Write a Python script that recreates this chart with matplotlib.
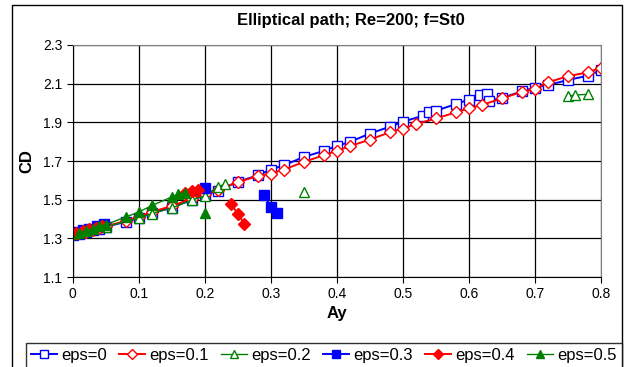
import numpy as np
import matplotlib
matplotlib.use("Agg")
import matplotlib.pyplot as plt
from matplotlib.patches import Rectangle

plt.rcParams['font.family'] = ['Liberation Sans', 'DejaVu Sans']

# ---- data (NaN = gap in the series) ----
ay_eps0 = [0, 0.01, 0.02, 0.03, 0.04, 0.05, 0.08, 0.10, 0.12, 0.15, 0.18, 0.20, 0.22,
           0.25, 0.28, 0.30, 0.32, 0.35, 0.38, 0.40, 0.42, 0.45, 0.48, 0.50, 0.53,
           0.54, 0.55, 0.58, 0.60, 0.617, 0.627, 0.63, 0.65, 0.68, 0.70, 0.72, 0.75,
           0.78, 0.80]
cd_eps0 = [1.318, 1.325, 1.333, 1.341, 1.350, 1.360, 1.385, 1.405, 1.431, 1.459, 1.500,
           1.523, 1.547, 1.592, 1.626, 1.656, 1.678, 1.721, 1.752, 1.778, 1.799, 1.842,
           1.877, 1.903, 1.934, 1.951, 1.960, 1.994, 2.018, 2.041, 2.046, 2.012, 2.026,
           2.060, 2.080, 2.093, 2.119, 2.141, 2.170]

ay_eps01 = [0, 0.01, 0.02, 0.03, 0.04, 0.05, 0.08, 0.10, 0.12, 0.15, 0.18, 0.20, 0.22,
            0.25, 0.28, 0.30, 0.32, 0.35, 0.38, 0.40, 0.42, 0.45, 0.48, 0.50, 0.52,
            0.55, 0.58, 0.60, 0.62, 0.65, 0.68, 0.70, 0.72, 0.75, 0.78, 0.80]
cd_eps01 = [1.320, 1.327, 1.335, 1.343, 1.352, 1.362, 1.390, 1.412, 1.437, 1.467, 1.505,
            1.527, 1.550, 1.592, 1.621, 1.635, 1.656, 1.695, 1.730, 1.752, 1.777, 1.811,
            1.848, 1.868, 1.891, 1.920, 1.951, 1.972, 1.990, 2.024, 2.057, 2.072, 2.107,
            2.139, 2.158, 2.183]

ay_eps02 = [0, 0.05, 0.10, 0.12, 0.15, 0.18, 0.20, 0.22, 0.23, np.nan, 0.35, np.nan,
            0.75, 0.76, 0.78]
cd_eps02 = [1.320, 1.360, 1.405, 1.428, 1.457, 1.497, 1.520, 1.566, 1.580, np.nan, 1.540,
            np.nan, 2.036, 2.041, 2.045]

ay_eps03 = [0.005, 0.015, 0.025, 0.037, 0.047, np.nan, 0.20, np.nan, 0.29, 0.30, 0.31]
cd_eps03 = [1.335, 1.342, 1.350, 1.365, 1.375, np.nan, 1.560, np.nan, 1.523, 1.462, 1.431]

ay_eps04 = [0.005, 0.015, 0.025, 0.035, 0.045, np.nan, 0.17, 0.18, 0.19, np.nan,
            0.24, 0.25, 0.26]
cd_eps04 = [1.330, 1.338, 1.346, 1.355, 1.365, np.nan, 1.535, 1.544, 1.552, np.nan,
            1.480, 1.424, 1.376]

ay_eps05 = [0.01, 0.02, 0.03, 0.04, 0.05, 0.08, 0.10, 0.12, 0.15, 0.16, 0.17, np.nan, 0.20]
cd_eps05 = [1.327, 1.340, 1.350, 1.362, 1.371, 1.410, 1.436, 1.470, 1.514, 1.528, 1.537,
            np.nan, 1.433]

BLUE = '#0000FF'
RED = '#FF0000'
GREEN = '#008000'

fig = plt.figure(figsize=(6.33, 3.67), dpi=100)
ax = fig.add_axes([0.1149, 0.2452, 0.8345, 0.6322])

ax.plot(ay_eps0, cd_eps0, '-s', color=BLUE, lw=1.4, ms=6.5, mfc='white', mec=BLUE,
        mew=1.0, label='eps=0')
ax.plot(ay_eps01, cd_eps01, '-D', color=RED, lw=1.4, ms=6, mfc='white', mec=RED,
        mew=1.0, label='eps=0.1')
ax.plot(ay_eps02, cd_eps02, '-^', color=GREEN, lw=1.0, ms=7, mfc='white', mec=GREEN,
        mew=1.0, label='eps=0.2')
ax.plot(ay_eps03, cd_eps03, '-s', color=BLUE, lw=1.4, ms=6.5, mfc=BLUE, mec=BLUE,
        label='eps=0.3')
ax.plot(ay_eps04, cd_eps04, '-D', color=RED, lw=1.4, ms=6, mfc=RED, mec=RED,
        label='eps=0.4')
ax.plot(ay_eps05, cd_eps05, '-^', color=GREEN, lw=1.0, ms=7.5, mfc=GREEN, mec=GREEN,
        label='eps=0.5')

ax.set_xlim(0, 0.8)
ax.set_ylim(1.1, 2.3)
ax.set_xticks(np.arange(0, 0.81, 0.1))
ax.set_xticklabels(['0', '0.1', '0.2', '0.3', '0.4', '0.5', '0.6', '0.7', '0.8'])
ax.set_yticks(np.arange(1.1, 2.31, 0.2))
ax.set_yticklabels(['1.1', '1.3', '1.5', '1.7', '1.9', '2.1', '2.3'])
ax.tick_params(direction='out', length=4, width=0.8, labelsize=10, color='black')
ax.grid(True, color='black', lw=0.9)
ax.set_axisbelow(True)
for side in ('top', 'right'):
    ax.spines[side].set_color('#808080')
for side in ('left', 'bottom'):
    ax.spines[side].set_color('black')

ax.set_xlabel('Ay', fontsize=12, fontweight='bold', labelpad=3)
ax.set_ylabel('CD', fontsize=12, fontweight='bold', labelpad=6)
fig.text(0.555, 0.945, 'Elliptical path; Re=200; f=St0', ha='center', va='center',
         fontsize=12, fontweight='bold')

# chart-area frame (runs off the bottom edge like the original)
fig.patches.append(Rectangle((12 / 633, -0.2), 610 / 633, 1.2 - 5 / 367,
                             transform=fig.transFigure, fill=False,
                             edgecolor='black', lw=1.0))

leg = fig.legend(loc='upper left', bbox_to_anchor=(26 / 633, 1 - 343 / 367),
                 ncol=6, fontsize=12, frameon=True, fancybox=False,
                 handlelength=1.55, handletextpad=0.25, columnspacing=0.75,
                 borderpad=0.3, borderaxespad=0)
leg.get_frame().set_edgecolor('black')
leg.get_frame().set_linewidth(1.0)
for h in leg.legend_handles:
    h.set_markersize(5.5)

fig.savefig('out.png', dpi=100)
